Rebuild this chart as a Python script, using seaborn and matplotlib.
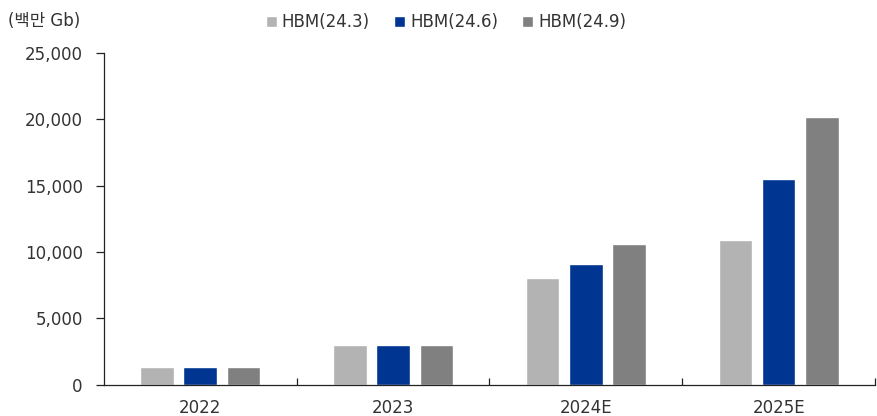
import pandas as pd
import matplotlib.pyplot as plt
import seaborn as sns
from matplotlib.ticker import FuncFormatter, FixedLocator

# ── data ─────────────────────────────────────────────
years = ["2022", "2023", "2024E", "2025E"]
series = ["HBM(24.3)", "HBM(24.6)", "HBM(24.9)"]
hbm_243 = [1350, 3000, 8050, 10900]
hbm_246 = [1350, 3000, 9100, 15500]
hbm_249 = [1350, 3000, 10600, 20200]
colors = ["#B3B3B3", "#003591", "#808080"]

df = pd.DataFrame({
    "year": years * 3,
    "series": [series[0]] * 4 + [series[1]] * 4 + [series[2]] * 4,
    "value": hbm_243 + hbm_246 + hbm_249,
})

# ── plot ─────────────────────────────────────────────
sns.set_style("white")
plt.rcParams["font.family"] = ["DejaVu Sans", "Noto Sans CJK KR"]

fig = plt.figure(figsize=(8.78, 4.16), dpi=100)
ax = fig.add_axes([0.118, 0.075, 0.879, 0.798])

sns.barplot(data=df, x="year", y="value", hue="series", palette=colors,
            width=0.67, gap=0.23, saturation=1, ax=ax, legend=True)

ax.set_ylim(0, 25000)
ax.set_xlim(-0.5, 3.5)
ax.set_yticks(range(0, 25001, 5000))
ax.yaxis.set_major_formatter(FuncFormatter(lambda v, p: f"{int(v):,}"))
ax.set_xlabel("")
ax.set_ylabel("")

for side in ["top", "right"]:
    ax.spines[side].set_visible(False)
for side in ["left", "bottom"]:
    ax.spines[side].set_color("#222222")
    ax.spines[side].set_linewidth(0.9)

ax.tick_params(axis="y", direction="out", length=6, width=0.9, color="#222222",
               labelsize=12, labelcolor="#333333", pad=9, left=True)
ax.tick_params(axis="x", which="major", length=0, labelsize=12,
               labelcolor="#333333", pad=10)
ax.xaxis.set_minor_locator(FixedLocator([0.5, 1.5, 2.5, 3.5]))
ax.tick_params(axis="x", which="minor", direction="in", length=5, width=0.9,
               color="#222222", bottom=True)

handles, labels = ax.get_legend_handles_labels()
ax.get_legend().remove()
fig.legend(handles, labels, loc="center", bbox_to_anchor=(446 / 878, 0.947),
           ncol=3, frameon=False, fontsize=12, handlelength=0.65,
           handleheight=0.65, handletextpad=0.3, columnspacing=1.45,
           labelcolor="#333333")

fig.text(0.009, 0.95, "(백만 Gb)", fontsize=12, color="#333333", va="center")

fig.savefig("out.png", dpi=100)
